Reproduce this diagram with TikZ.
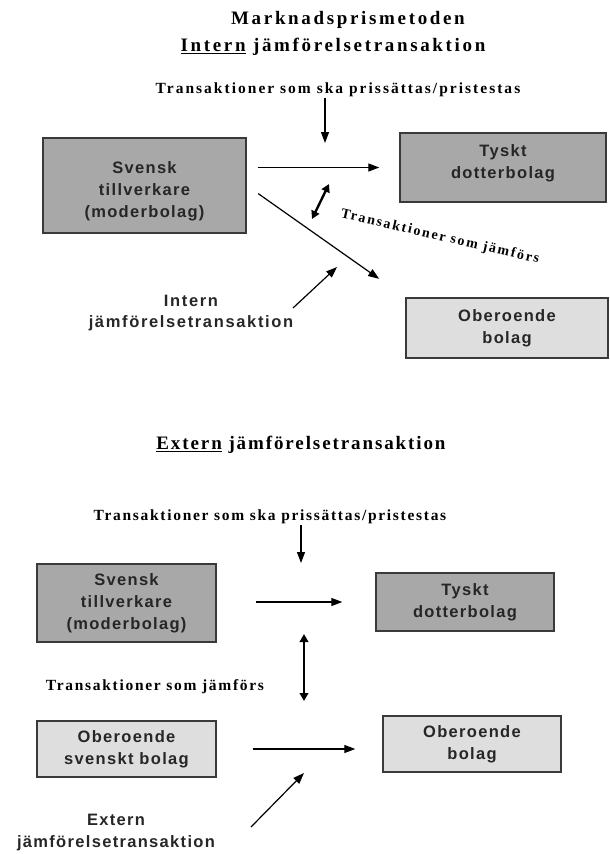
\documentclass[tikz,border=0pt]{standalone}
\usepackage{fontspec}
\setmainfont{Liberation Serif}
\newfontfamily\headfont[LetterSpace=14]{Liberation Serif}
\newfontfamily\subfont[LetterSpace=14]{Liberation Serif}
\newfontfamily\subfontB[LetterSpace=10]{Liberation Serif}
\newfontfamily\notefont[LetterSpace=13]{Liberation Serif}
\newfontfamily\notefontB[LetterSpace=11]{Liberation Serif}
\newfontfamily\boxfont[LetterSpace=8]{Liberation Sans}
\newfontfamily\labelfont[LetterSpace=10]{Liberation Sans}
\usetikzlibrary{arrows.meta}
\definecolor{darkbox}{HTML}{A8A8A8}
\definecolor{lightbox}{HTML}{DEDEDE}
\definecolor{boxline}{HTML}{3A3A3A}
\definecolor{boxtext}{HTML}{262626}
% shift a stack of centred lines vertically without changing its box
\newcommand{\shiftedlines}[2]{\raisebox{#1}[\height][\depth]{\begin{tabular}{@{}c@{}}#2\end{tabular}}}
\begin{document}
\begin{tikzpicture}[x=1pt,y=-1pt,
  company/.style={draw=boxline, line width=1.4pt, inner sep=0pt, align=center,
    text=boxtext, font=\boxfont\bfseries\fontsize{16.5}{22}\selectfont},
  parent/.style={company, fill=darkbox},
  independent/.style={company, fill=lightbox},
  heading/.style={inner sep=0pt, font=\headfont\bfseries\fontsize{19}{22}\selectfont},
  subheading/.style={inner sep=0pt, font=\subfont\bfseries\fontsize{19}{22}\selectfont},
  subheadingB/.style={inner sep=0pt, font=\subfontB\bfseries\fontsize{19}{22}\selectfont},
  note/.style={inner sep=1pt, font=\notefont\bfseries\fontsize{15.5}{18}\selectfont},
  noteB/.style={inner sep=1pt, font=\notefontB\bfseries\fontsize{15.5}{18}\selectfont},
  label/.style={inner sep=0pt, align=center, text=boxtext,
    font=\labelfont\bfseries\fontsize{16.5}{21}\selectfont},
  flow/.style={line width=1.2pt, -{Triangle[length=11pt,width=8pt]}},
  compare/.style={line width=2.4pt, {Triangle[length=8pt,width=8.5pt]}-{Triangle[length=8pt,width=8.5pt]}}]
\useasboundingbox (0,0) rectangle (610,854);

% ---------- upper part: internal comparison ----------
\node[heading] (title) at (348,20) {Marknadsprismetoden};
\node[subheading] (subA) at (333,47) {\underline{Intern} jämförelsetransaktion};
\node[note] (prisA) at (338,90) {Transaktioner som ska prissättas/pristestas};

\node[parent, minimum width=203pt, minimum height=95pt] (svA) at (144.5,185.5)
  {\shiftedlines{-6pt}{Svensk\\tillverkare\\(moderbolag)}};
\node[parent, minimum width=206pt, minimum height=69pt] (tyA) at (503,167.5)
  {\shiftedlines{4pt}{Tyskt\\dotterbolag}};
\node[independent, minimum width=202pt, minimum height=60pt] (obA) at (507,328)
  {Oberoende\\bolag};

\node[noteB, rotate=-13, font=\notefont\bfseries\fontsize{14}{16}\selectfont] (cmpA) at (440,237) {Transaktioner som jämförs};
\node[label] (intA) at (191,313) {Intern\\jämförelsetransaktion};

\coordinate (downA) at (325,143);
\coordinate (dblAa) at (329,184);
\coordinate (dblAb) at (312,219);
\coordinate (intTail) at (293,308);
\coordinate (intHead) at (337,267);

\draw[flow] (prisA.south -| downA) -- (downA);
\draw[flow, shorten <=11pt, shorten >=20pt] (svA.east |- tyA.west) -- (tyA.west);
\draw[flow, shorten <=14pt, shorten >=32pt] (svA.east) -- (obA.north west);
\draw[compare] (dblAb) -- (dblAa);
\draw[flow] (intTail) -- (intHead);

% ---------- lower part: external comparison ----------
\node[subheadingB] (subB) at (301,445) {\underline{Extern} jämförelsetransaktion};
\node[noteB] (prisB) at (270,517) {Transaktioner som ska prissättas/pristestas};

\node[parent, minimum width=179pt, minimum height=78pt] (svB) at (126.5,603)
  {Svensk\\tillverkare\\(moderbolag)};
\node[parent, minimum width=178pt, minimum height=58pt] (tyB) at (465,602)
  {Tyskt\\dotterbolag};
\node[independent, minimum width=179pt, minimum height=56pt] (obB) at (126.5,749)
  {Oberoende\\svenskt bolag};
\node[independent, minimum width=178pt, minimum height=56pt] (obC) at (472,744)
  {Oberoende\\bolag};

\node[noteB] (cmpB) at (155,687) {Transaktioner som jämförs};
\node[label, font=\boxfont\bfseries\fontsize{16.5}{22}\selectfont] (extB) at (116,833) {Extern\\jämförelsetransaktion};

\coordinate (downB) at (301,563);
\coordinate (dblBa) at (304,634);
\coordinate (dblBb) at (304,701);
\coordinate (extTail) at (251,827);
\coordinate (extHead) at (304,773);

\draw[flow] (prisB.south -| downB) -- (downB);
\draw[flow, shorten <=39pt, shorten >=33pt] (svB.east |- tyB.west) -- (tyB.west);
\draw[compare] (dblBa) -- (dblBb);
\draw[flow, shorten <=36pt, shorten >=27pt] (obB.east) -- (obB.east -| obC.west);
\draw[flow] (extTail) -- (extHead);
\end{tikzpicture}
\end{document}
